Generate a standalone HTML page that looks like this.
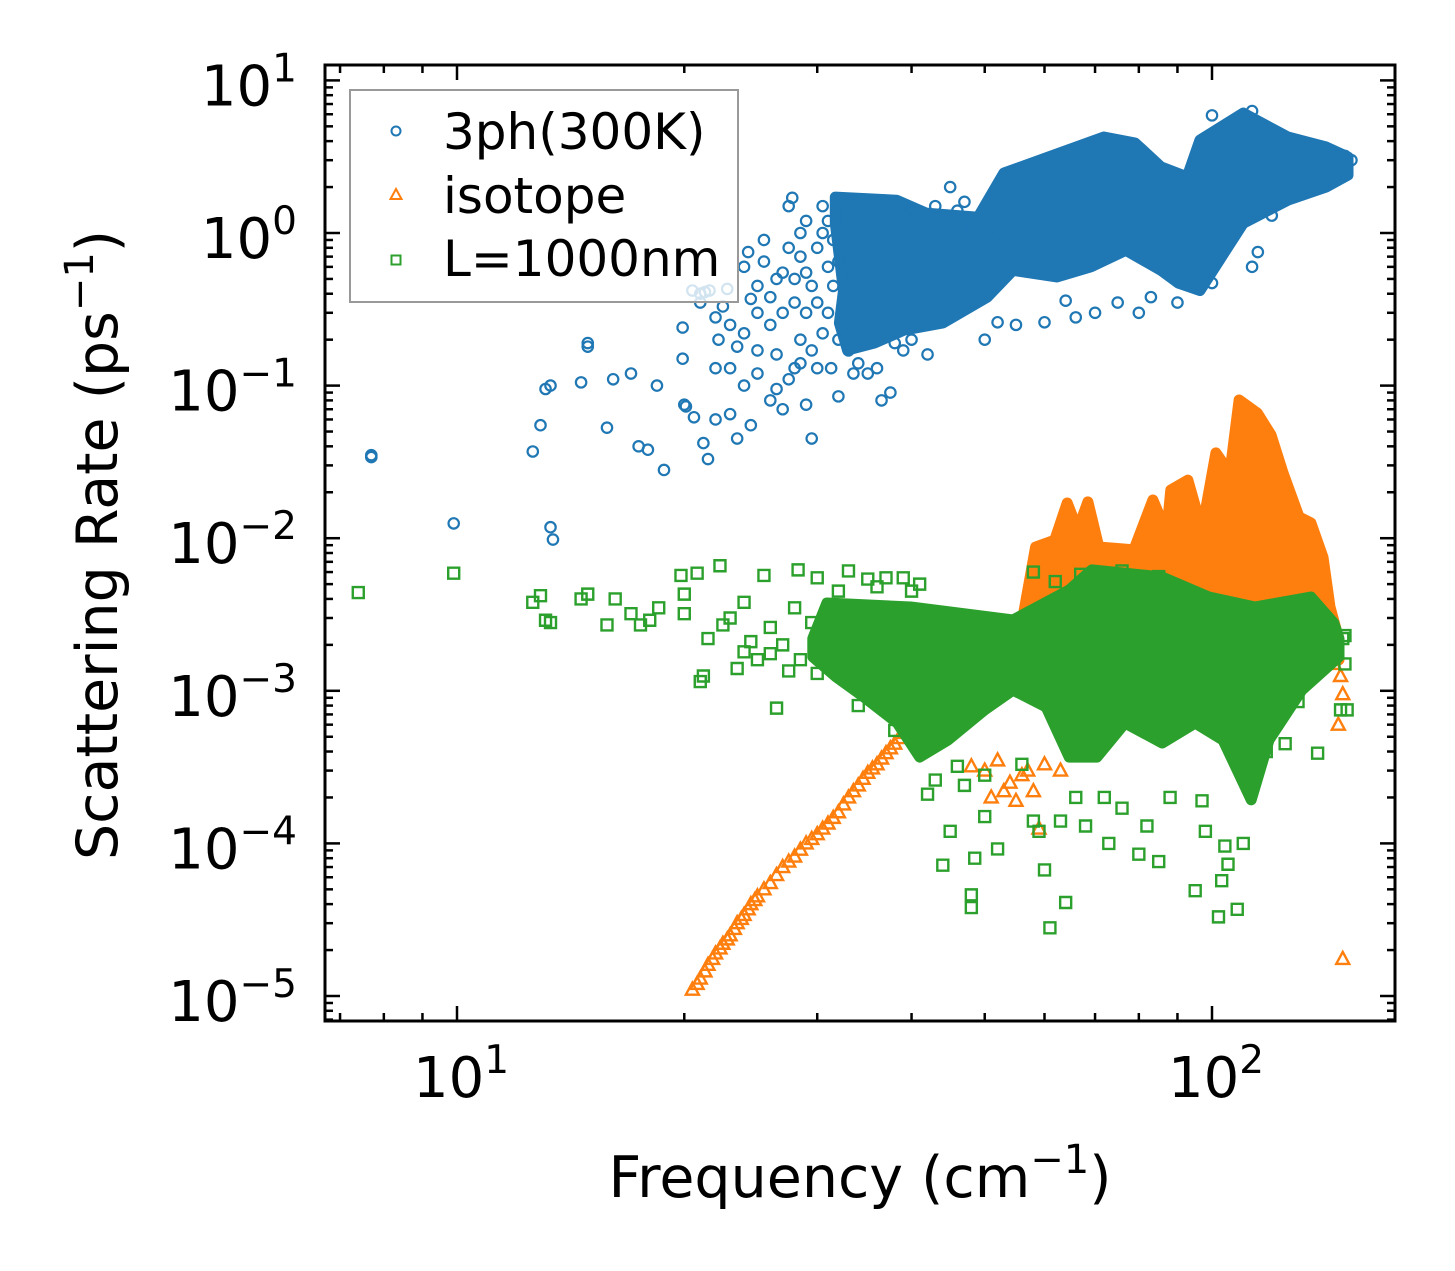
<!DOCTYPE html>
<html><head><meta charset="utf-8"><title>Scattering Rate</title>
<style>
html,body{margin:0;padding:0;background:#fff;}
body{position:relative;}
svg{display:block;}
text{font-family:"DejaVu Sans","Liberation Sans",sans-serif;fill:#000;}
</style></head>
<body>
<svg id="chart" xmlns="http://www.w3.org/2000/svg" width="1455" height="1271" viewBox="0 0 1455 1271">
<rect x="0" y="0" width="1455" height="1271" fill="#fff"/>
<g id="marks"></g>
<g id="axes"></g>
</svg>
<script>
// ---------- data ----------
const xTickValues = [10, 100];
const xTickLabels = ["1", "2"];
const yTickValues = [10, 1, 0.1, 0.01, 0.001, 0.0001, 0.00001];
const yTickLabels = ["1", "0", "\u22121", "\u22122", "\u22123", "\u22124", "\u22125"];
const seriesNames = ["3ph(300K)", "isotope", "L=1000nm"];

// dense-core envelopes [frequency, rate]
const blueCoreUpper = [[31.7,1.72],[38.2,1.64],[41.8,1.35],[49.0,1.27],[53.0,2.47],[60.7,3.15],[71.9,4.26],[79.1,3.89],[85.6,2.71],[92.7,2.33],[96.4,4.07],[110,6.11],[126,4.26],[141.6,3.66],[151.4,3.15]];
const blueCoreLower = [[31.7,1.16],[32.5,0.42],[32.1,0.257],[32.9,0.171],[35.7,0.19],[39.1,0.231],[44.0,0.257],[50.4,0.38],[54.5,0.57],[62.3,0.515],[69.1,0.60],[76.9,0.77],[85.6,0.57],[90.2,0.47],[96.4,0.42],[103,0.70],[110,1.16],[126,1.64],[141.6,2.0],[151.4,2.4]];
const orangeCoreUpper = [[56.0,0.00278],[58.4,0.00875],[61.9,0.0097],[64.3,0.017],[66.4,0.0113],[68.5,0.0173],[70.8,0.00875],[78.8,0.0084],[83.5,0.0178],[87.1,0.0108],[88.2,0.0207],[92.9,0.024],[97.0,0.0113],[101.2,0.0362],[105.6,0.0267],[108.6,0.0805],[114.8,0.066],[119.7,0.0475],[124.2,0.0267],[130.4,0.0138],[135.2,0.0126],[140.3,0.0075],[143.3,0.00354],[147.3,0.00215]];
const orangeCoreLower = [[56.0,0.0015],[70,0.0018],[90,0.0018],[110,0.0018],[130,0.0018],[147.3,0.0016]];
const greenCoreUpper = [[29.6,0.0022],[30.9,0.00376],[39.9,0.00354],[54.5,0.00291],[64.7,0.00458],[69.3,0.0062],[85.9,0.00557],[99.1,0.00412],[114,0.00354],[135.2,0.00412],[145,0.00278],[147.3,0.0022]];
const greenCoreLower = [[29.6,0.00167],[31.8,0.00123],[34.6,0.00091],[38.3,0.000615],[41.0,0.000368],[44.7,0.000476],[50.0,0.00075],[54.5,0.00101],[60.3,0.000783],[64.7,0.000368],[70.4,0.000368],[76.7,0.000615],[85.9,0.000455],[95,0.000615],[103.4,0.000476],[112.7,0.000193],[119,0.000476],[131.5,0.00101],[147.3,0.00167]];

// scattered points
const blueFreq = [7.7,7.7,9.9,12.6,12.9,13.1,13.3,13.3,13.4,14.6,14.9,14.9,15.8,16.1,17,17.4,17.9,18.4,18.8,19.9,19.9,20,20.1,20.6,21,21.2,21.5,21.6,22,22.2,22,23,23.5,24,24.3,24.5,25,25,25.5,26,26.5,27,27.5,27.8,28,28.5,29.5,29,30,30.5,31,31.3,32,33.5,35,36.5,37.5,38,39,42,45,46,47,50,52,55,60,64,66,70,75,80,83,90,95,100,105,113,115,120,100,113,140,150,153,21,22.5,23,23.5,24,24.5,25,25.5,26,26,26.5,27,27,27.5,28,28,28.5,28.5,29,29,29.5,29.5,30,30,30.5,30.5,31,31,31.5,31.5,32,32,23,24,25,26.5,22,27.5,28.5,29,33,34,36,38,40,33,35,37,40,43,48,52,20.5,21.3,22.8];
const blueRate = [0.035,0.034,0.0125,0.037,0.055,0.095,0.1,0.0118,0.0098,0.105,0.18,0.19,0.053,0.11,0.12,0.04,0.038,0.1,0.028,0.24,0.15,0.075,0.073,0.062,0.4,0.042,0.033,0.42,0.13,0.2,0.28,0.065,0.045,0.6,0.75,0.055,0.12,0.3,0.9,0.08,0.5,0.07,1.5,1.7,0.35,0.2,0.045,0.075,0.13,1.0,0.6,0.13,0.085,0.12,0.12,0.08,0.09,1.4,0.17,0.16,2.0,1.4,1.6,0.2,0.26,0.25,0.26,0.36,0.28,0.3,0.35,0.3,0.38,0.35,0.5,0.47,1.2,0.6,0.75,1.3,5.9,6.3,2.1,3.2,3.0,0.35,0.33,0.25,0.18,0.22,0.37,0.45,0.65,0.25,0.38,0.16,0.3,0.55,0.8,0.13,0.5,1.0,0.7,0.3,1.2,0.45,0.17,0.8,0.35,0.22,1.5,0.3,1.2,0.45,0.9,0.2,0.65,0.13,0.1,0.17,0.095,0.06,0.11,0.14,0.55,0.17,0.14,0.13,0.19,0.2,1.6,1.5,1.6,1.4,1.5,1.1,1.0,0.42,0.41,0.43];

const orangeFreq = [20.5,20.8,21,21.3,21.5,21.8,22,22.3,22.5,22.8,23,23.3,23.5,23.8,24,24.3,24.5,24.8,25,25.5,26,26.5,27,27.5,28,28.5,29,29.5,30,30.5,31,31.5,32,32.5,33,33.5,34,34.5,35,35.5,36,36.5,37,37.5,38,38.5,39,39.5,40,41,42,43,44,46,48,53,54,55,56,57,59,58,50,51,52,60,63,48,147,149,148,149,145,118,103,85,136,140,57,59,61];
const orangeRate = [1.1e-5,1.2e-5,1.3e-5,1.45e-5,1.6e-5,1.75e-5,1.9e-5,2.05e-5,2.2e-5,2.35e-5,2.5e-5,2.75e-5,3.0e-5,3.2e-5,3.4e-5,3.7e-5,4.0e-5,4.25e-5,4.5e-5,5.0e-5,5.5e-5,6.2e-5,7.0e-5,7.6e-5,8.2e-5,9.1e-5,1.0e-4,1.07e-4,1.15e-4,1.25e-4,1.35e-4,1.47e-4,1.6e-4,1.8e-4,2.0e-4,2.2e-4,2.4e-4,2.65e-4,2.9e-4,3.1e-4,3.3e-4,3.6e-4,3.9e-4,4.2e-4,4.5e-4,4.9e-4,5.3e-4,5.7e-4,6.2e-4,7.3e-4,8.5e-4,1.0e-3,1.2e-3,1.5e-3,1.8e-3,2.2e-4,2.5e-4,1.9e-4,2.8e-4,3.0e-4,1.25e-4,2.2e-4,3.0e-4,2.0e-4,3.5e-4,3.3e-4,3.0e-4,3.2e-4,6.0e-4,9.5e-4,1.25e-3,1.75e-5,1.5e-3,0.0075,0.006,0.005,0.005,0.004,1.2e-3,1.8e-3,2.5e-3];

const greenFreq = [7.4,9.9,12.6,12.9,13.1,13.3,14.6,14.9,15.8,16.2,17,17.5,18,18.5,19.8,20,20,20.8,21,21.2,21.5,22.3,22.5,23,23.5,24,24,24.5,25,25.5,26,26,26.5,27,27.5,28,28.3,28.5,29.5,30,30,32,33,34,35,36,37,38,39,40,41,42,43,44,45,47,48,48,48.5,46,50,50,52,56,58,59,60,61,63,64,66,68,72,73,76,80,82,85,88,95,97,98,102,103,104,105,108,110,113,118,125,130,138,148,150,145,58,62,67,76,85,36,34,38,40,149,150,151];
const greenRate = [4.4e-3,5.9e-3,3.8e-3,4.2e-3,2.9e-3,2.8e-3,4.0e-3,4.3e-3,2.7e-3,4e-3,3.2e-3,2.7e-3,2.9e-3,3.5e-3,5.7e-3,4.3e-3,3.2e-3,5.9e-3,1.15e-3,1.25e-3,2.2e-3,6.6e-3,2.7e-3,3.0e-3,1.4e-3,1.8e-3,3.8e-3,2.1e-3,1.6e-3,5.7e-3,2.6e-3,1.75e-3,7.7e-4,2.0e-3,1.35e-3,3.5e-3,6.2e-3,1.6e-3,2.8e-3,5.5e-3,1.3e-3,4.5e-3,6.1e-3,3.0e-3,5.4e-3,4.8e-3,5.5e-3,8.5e-4,5.5e-3,4.5e-3,5.0e-3,2.1e-4,2.6e-4,7.2e-5,1.2e-4,2.4e-4,4.6e-5,3.8e-5,8e-5,3.2e-4,2.8e-4,1.5e-4,9.2e-5,3.3e-4,1.4e-4,1.2e-4,6.7e-5,2.8e-5,1.4e-4,4.1e-5,2.0e-4,1.3e-4,2.0e-4,1.0e-4,1.7e-4,8.5e-5,1.3e-4,7.6e-5,2.0e-4,4.9e-5,1.9e-4,1.2e-4,3.3e-5,5.7e-5,9.6e-5,7.3e-5,3.7e-5,1.0e-4,2.4e-4,4.0e-4,4.5e-4,8.5e-4,3.9e-4,7.5e-4,2.3e-3,2.4e-3,6e-3,5.2e-3,5.8e-3,6.1e-3,5.6e-3,1.0e-3,8e-4,5.5e-4,6.5e-4,2.2e-3,1.5e-3,7.5e-4];

// ---------- scales ----------
const X = f => 457 + 755 * (Math.log10(f) - 1);
const Y = v => 233 - 152.6 * Math.log10(v);
const NS = "http://www.w3.org/2000/svg";
const C_BLUE = "#1f77b4", C_ORANGE = "#ff7f0e", C_GREEN = "#2ca02c";
const marks = document.getElementById("marks");
const axes = document.getElementById("axes");
function mk(tag, attrs, parent) {
  const e = document.createElementNS(NS, tag);
  for (const k in attrs) e.setAttribute(k, attrs[k]);
  parent.appendChild(e);
  return e;
}
function markerPath(kind, cx, cy) {
  if (kind === "tri") return `M${cx},${cy-7} L${cx+6.5},${cy+5} L${cx-6.5},${cy+5} Z`;
  return `M${cx-5.5},${cy-5.5} h11 v11 h-11 Z`;
}
function drawCore(upper, lower, color, name, parent) {
  const pts = upper.map(p => X(p[0]).toFixed(1) + "," + Y(p[1]).toFixed(1))
    .concat(lower.slice().reverse().map(p => X(p[0]).toFixed(1) + "," + Y(p[1]).toFixed(1)));
  const poly = mk("polygon", {points: pts.join(" "), fill: color, stroke: color, "stroke-width": 11, "stroke-linejoin": "round"}, parent);
  
  
}
function drawPoints(fs, vs, kind, color, name, parent) {
  const g = mk("g", {}, parent);
  
  
  for (let i = 0; i < fs.length; i++) {
    const cx = X(fs[i]), cy = Y(vs[i]);
    let el;
    if (kind === "circle") el = mk("circle", {cx: cx, cy: cy, r: 5.2, fill: "none", stroke: color, "stroke-width": 2.2}, g);
    else el = mk("path", {d: markerPath(kind, cx, cy), fill: "none", stroke: color, "stroke-width": 2.4, "stroke-linejoin": "miter"}, g);
    
    
  }
}

drawCore(blueCoreUpper, blueCoreLower, C_BLUE, "3ph-dense-core", marks);
drawPoints(blueFreq, blueRate, "circle", C_BLUE, "3ph-series", marks);
drawCore(orangeCoreUpper, orangeCoreLower, C_ORANGE, "isotope-dense-core", marks);
drawPoints(orangeFreq, orangeRate, "tri", C_ORANGE, "isotope-series", marks);
drawCore(greenCoreUpper, greenCoreLower, C_GREEN, "boundary-dense-core", marks);
drawPoints(greenFreq, greenRate, "square", C_GREEN, "boundary-series", marks);

// ---------- axes ----------
const L = 325, R = 1395, T = 65, B = 1021;
const defs = mk("defs", {}, document.getElementById("chart"));
const cp = mk("clipPath", {id: "clip"}, defs);
mk("rect", {x: L, y: T, width: R - L, height: B - T}, cp);
marks.setAttribute("clip-path", "url(#clip)");
const frame = mk("rect", {x: L, y: T, width: R - L, height: B - T, fill: "none", stroke: "#000", "stroke-width": 3}, axes);



function tick(x1, y1, x2, y2, name) {
  const t = mk("line", {x1: x1, y1: y1, x2: x2, y2: y2, stroke: "#000", "stroke-width": 2.5}, axes);
  
  
}
for (let d = 0; d <= 2; d++) {
  for (let m = 1; m <= 9; m++) {
    const px = X(m * Math.pow(10, d));
    if (px < L + 1 || px > R - 1) continue;
    const len = m === 1 ? 15 : 8;
    tick(px, B, px, B - len, 'x-tick');
    tick(px, T, px, T + len, 'x-tick-top');
  }
}
for (let d = -6; d <= 1; d++) {
  for (let m = 1; m <= 9; m++) {
    const py = Y(m * Math.pow(10, d));
    if (py < T + 1 || py > B - 1) continue;
    const len = m === 1 ? 15 : 8;
    tick(L, py, L + len, py, 'y-tick');
    tick(R, py, R - len, py, 'y-tick-right');
  }
}
xTickValues.forEach((v, i) => {
  const t = mk("text", {x: X(v) + 4, y: 1097, "font-size": 56, "text-anchor": "middle"}, axes);
  
  
  t.appendChild(document.createTextNode("10"));
  const s = mk("tspan", {dy: -24, "font-size": 39}, t);
  s.textContent = xTickLabels[i];
});
yTickValues.forEach((v, i) => {
  const t = mk("text", {x: 297, y: Y(v) + 25, "font-size": 56, "text-anchor": "end"}, axes);
  
  
  t.appendChild(document.createTextNode("10"));
  const s = mk("tspan", {dy: -24, "font-size": 39}, t);
  s.textContent = yTickLabels[i];
});
</script>
<svg style="position:absolute;left:0;top:0" width="1455" height="1271">
<text x="860" y="1197" font-size="57" text-anchor="middle">Frequency (cm<tspan dy="-24" font-size="40">−1</tspan><tspan dy="24">)</tspan></text>
<text transform="translate(117,545) rotate(-90)" x="0" y="0" font-size="57" text-anchor="middle">Scattering Rate (ps<tspan dy="-24" font-size="40">−1</tspan><tspan dy="24">)</tspan></text>
<g>
<rect x="350" y="90" width="388" height="212" fill="#fff" fill-opacity="0.8" stroke="#999" stroke-width="2"/>
<g>
<circle cx="396" cy="131" r="4.5" fill="none" stroke="#1f77b4" stroke-width="2"/>
<text x="443" y="149" font-size="50">3ph(300K)</text>
</g>
<g>
<path d="M396,189 L401.5,199 L390.5,199 Z" fill="none" stroke="#ff7f0e" stroke-width="2"/>
<text x="443" y="213" font-size="50">isotope</text>
</g>
<g>
<path d="M391.5,255.5 h9 v9 h-9 Z" fill="none" stroke="#2ca02c" stroke-width="2"/>
<text x="443" y="276" font-size="50">L=1000nm</text>
</g>
</g>
</svg>
</body></html>
